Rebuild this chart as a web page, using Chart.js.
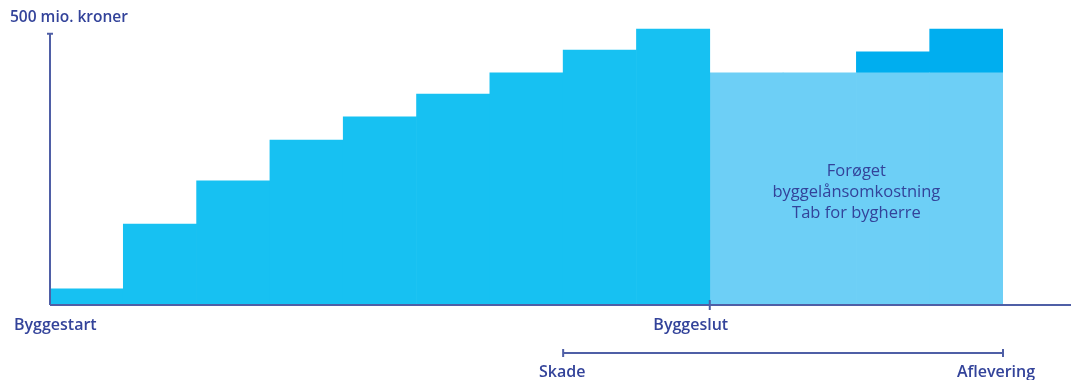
<!DOCTYPE html>
<html>
<head>
<meta charset="utf-8">
<script src="https://cdn.jsdelivr.net/npm/chart.js@4/dist/chart.umd.min.js"></script>
<style>
  html, body { margin: 0; padding: 0; background: #fff; }
  #wrap { width: 1071px; height: 380px; position: relative; }
</style>
</head>
<body>
<div id="wrap"><canvas id="chart"></canvas></div>
<script>
// periods from byggestart to aflevering (mio. kroner)
const periods = ["1", "2", "3", "4", "5", "6", "7", "8", "9", "10", "11", "12", "13"];
const byggeomkostning = [30, 149, 229, 304, 347, 389, 428, 470, 509, null, null, null, null];
const byggelaan = [null, null, null, null, null, null, null, null, null, 428, 428, 428, 428];
const ekstra = [null, null, null, null, null, null, null, null, null, null, null, 39, 81];
const axisTop = 500;
const yMax = 520;

const navy = "#33439a";
const axisColor = "#4f5fa6";
const fontFam = "'Open Sans', 'Noto Sans', sans-serif";

// akser, tekster og skade-periode
const decorations = {
  id: "decorations",
  afterDatasetsDraw(chart) {
    const { ctx, chartArea, scales } = chart;
    const x = scales.x, y = scales.y;
    const y0 = y.getPixelForValue(0);
    const yTop = y.getPixelForValue(axisTop);
    const left = chartArea.left;
    const half = (x.getPixelForTick(1) - x.getPixelForTick(0)) / 2;
    const slutX = x.getPixelForTick(8) + half;
    const skadeX = x.getPixelForTick(7) - half;
    const aflevX = x.getPixelForTick(12) + half;

    ctx.save();
    ctx.strokeStyle = axisColor;
    ctx.lineWidth = 2;
    ctx.beginPath();
    ctx.moveTo(left, y0);
    ctx.lineTo(left, yTop);
    ctx.moveTo(left - 3, yTop);
    ctx.lineTo(left + 3, yTop);
    ctx.moveTo(left, y0);
    ctx.lineTo(chart.width, y0);
    ctx.moveTo(slutX, y0 - 5);
    ctx.lineTo(slutX, y0 + 5);
    ctx.stroke();

    // skade -> aflevering
    const by = 353;
    ctx.lineWidth = 2;
    ctx.beginPath();
    ctx.moveTo(skadeX, by);
    ctx.lineTo(aflevX, by);
    ctx.moveTo(skadeX, by - 4);
    ctx.lineTo(skadeX, by + 4);
    ctx.moveTo(aflevX, by - 4);
    ctx.lineTo(aflevX, by + 4);
    ctx.stroke();

    ctx.fillStyle = navy;
    ctx.textBaseline = "middle";
    ctx.font = "600 15.5px " + fontFam;
    ctx.textAlign = "left";
    ctx.fillText("500 mio. kroner", 10, 18);
    ctx.font = "600 16px " + fontFam;
    ctx.fillText("Byggestart", 14, 325);
    ctx.textAlign = "center";
    ctx.fillText("Byggeslut", slutX - 19, 325);
    ctx.fillText("Skade", skadeX - 1, 372);
    ctx.fillText("Aflevering", aflevX - 7, 372);

    ctx.font = "16.5px " + fontFam;
    const cx = (x.getPixelForTick(9) + x.getPixelForTick(12)) / 2;
    ctx.fillText("Forøget", cx, 171);
    ctx.fillText("byggelånsomkostning", cx, 192);
    ctx.fillText("Tab for bygherre", cx, 213);
    ctx.restore();
  }
};

new Chart(document.getElementById("chart"), {
  type: "bar",
  data: {
    labels: periods,
    datasets: [
      {
        label: "Byggeomkostning",
        data: byggeomkostning,
        backgroundColor: "#17c1f2",
        borderWidth: 0,
      },
      {
        label: "Forøget byggelånsomkostning",
        data: byggelaan,
        backgroundColor: "#6dcff6",
        borderWidth: 0,
      },
      {
        label: "Ekstra",
        data: ekstra,
        backgroundColor: "#00aeef",
        borderWidth: 0,
      },
    ],
  },
  options: {
    responsive: true,
    maintainAspectRatio: false,
    animation: false,
    layout: { padding: { left: 50, right: 68, top: 23, bottom: 75 } },
    datasets: { bar: { categoryPercentage: 1, barPercentage: 1, grouped: false } },
    plugins: { legend: { display: false }, tooltip: { enabled: false } },
    scales: {
      x: { display: false, stacked: true },
      y: { display: false, stacked: true, min: 0, max: yMax },
    },
  },
  plugins: [decorations],
});
</script>
</body>
</html>
